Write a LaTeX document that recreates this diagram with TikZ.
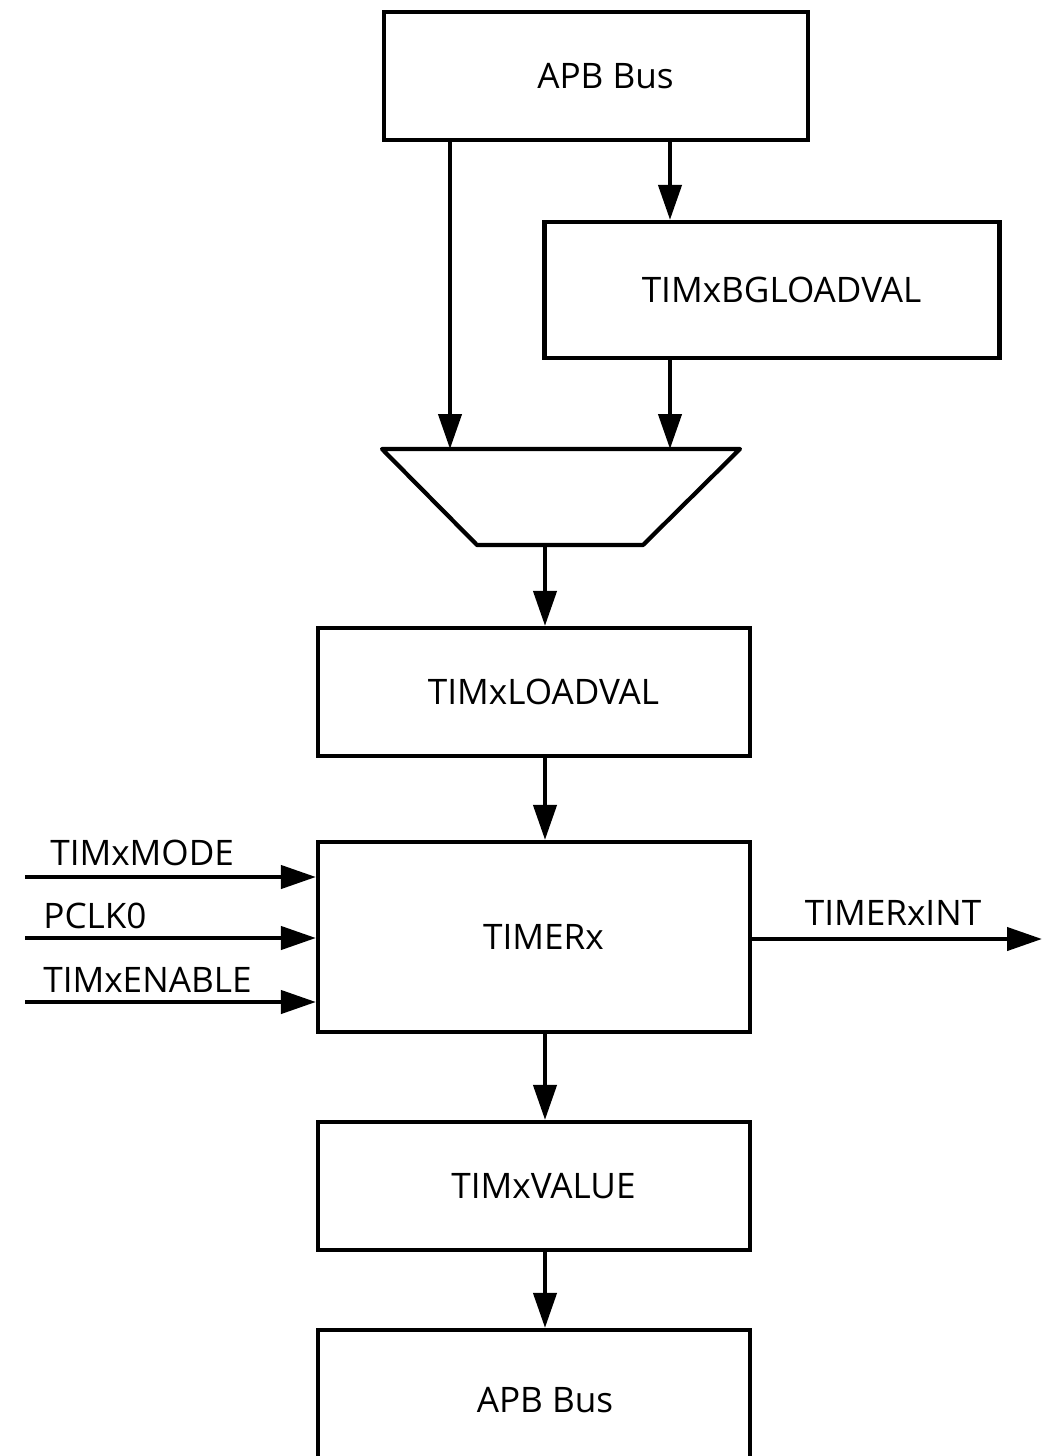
\documentclass[tikz,border=0pt]{standalone}
\usepackage{fontspec}
\setmainfont{Open Sans}
\usetikzlibrary{arrows.meta,calc}

\begin{document}
\begin{tikzpicture}[
    x={(0.02cm,0)}, y={(0,-0.02cm)},
    wire/.style={line width=2.4pt},
    arr/.style={wire, -{Triangle[length=0.7cm,width=0.46cm]}},
    regbox/.style={draw, wire, rectangle, align=center,
                   font=\fontsize{20}{24}\selectfont,
                   execute at begin node={\hspace*{0.38cm}}},
    sig/.style={font=\fontsize{20}{24}\selectfont, inner sep=0pt}
]
    % --- 画布范围 ---
    \useasboundingbox (0,0) rectangle (1052,1456);
    \clip (0,0) rectangle (1052,1456);

    % --- 寄存器方框 ---
    \node[regbox, minimum width=8.48cm, minimum height=2.56cm] (apbTop) at (596,76) {APB Bus};
    \node[regbox, minimum width=9.1cm, minimum height=2.72cm] (bgLoad) at (772,290) {TIMxBGLOADVAL};
    \node[regbox, minimum width=8.64cm, minimum height=2.56cm] (loadVal) at (534,692) {TIMxLOADVAL};
    \node[regbox, minimum width=8.64cm, minimum height=3.8cm] (timer) at (534,937) {TIMERx};
    \node[regbox, minimum width=8.64cm, minimum height=2.56cm] (value) at (534,1186) {TIMxVALUE};
    % 底部的 APB Bus 超出画布，只露出上半部分
    \node[regbox, minimum width=8.64cm, minimum height=3.0cm] (apbBot) at (534,1405) {};
    \node[sig] (apbBotText) at (545,1400) {APB Bus};

    % --- 选择器 (梯形) ---
    \draw[wire, line join=round] (382,449) -- (740,449) -- (643,545) -- (477,545) -- cycle;
    \coordinate (muxL) at (450,449);
    \coordinate (muxR) at (670,449);
    \coordinate (muxOut) at (545,545);

    % --- 数据通路 ---
    \draw[arr] (apbTop.south -| muxL) -- (muxL);
    \draw[arr] (apbTop.south -| muxR) -- (bgLoad.north -| muxR);
    \draw[arr] (bgLoad.south -| muxR) -- (muxR);
    \draw[arr] (muxOut) -- (loadVal.north -| muxOut);
    \draw[arr] (loadVal.south -| muxOut) -- (timer.north -| muxOut);
    \draw[arr] (timer.south -| muxOut) -- (value.north -| muxOut);
    \draw[arr] (value.south -| muxOut) -- (apbBot.north -| muxOut);

    % --- 输入信号 ---
    \coordinate (inMode) at (25,877);
    \coordinate (inClk) at (25,938);
    \coordinate (inEn) at (25,1002);
    \draw[arr] (inMode) -- (inMode -| timer.west);
    \draw[arr] (inClk) -- (inClk -| timer.west);
    \draw[arr] (inEn) -- (inEn -| timer.west);
    \node[sig, anchor=base west] (modeLbl) at (50,865) {TIMxMODE};
    \node[sig, anchor=base west] (clkLbl) at (43,928) {PCLK0};
    \node[sig, anchor=base west] (enLbl) at (43,992) {TIMxENABLE};

    % --- 输出中断 ---
    \coordinate (outInt) at (1042,939);
    \draw[arr] (timer.east |- outInt) -- (outInt);
    \node[sig, anchor=base] (intLbl) at (893,925) {TIMERxINT};
\end{tikzpicture}
\end{document}
